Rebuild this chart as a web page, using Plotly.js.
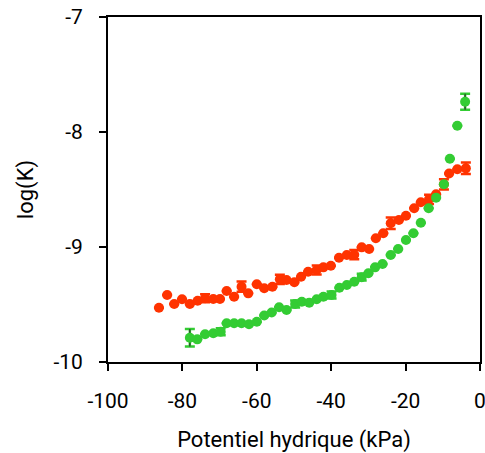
<!DOCTYPE html>
<html>
<head>
<meta charset="utf-8">
<script src="https://cdn.plot.ly/plotly-3.0.1.min.js"></script>
<style>html,body{margin:0;padding:0;background:#fff;}#chart{width:485px;height:453px;}</style>
</head>
<body>
<div id="chart"></div>
<script>
// Red series
const redX = [-86.3,-84.1,-82.2,-80.1,-78.0,-75.9,-73.9,-71.7,-69.9,-68.1,-66.1,-64.1,-62.3,-60.0,-58.0,-55.8,-53.8,-52.0,-49.9,-48.1,-46.2,-43.9,-42.1,-40.1,-37.9,-35.8,-33.8,-31.8,-29.8,-28.0,-26.0,-24.0,-21.8,-19.9,-17.7,-15.9,-13.7,-11.8,-9.7,-8.3,-6.1,-3.8];
const redY = [-9.528,-9.417,-9.496,-9.455,-9.496,-9.467,-9.446,-9.452,-9.452,-9.383,-9.432,-9.345,-9.403,-9.324,-9.359,-9.345,-9.281,-9.287,-9.307,-9.258,-9.215,-9.200,-9.177,-9.163,-9.093,-9.070,-9.067,-9.003,-9.017,-8.924,-8.881,-8.794,-8.765,-8.728,-8.663,-8.611,-8.585,-8.542,-8.455,-8.361,-8.324,-8.316];
const redErr = [0,0,0,0,0,0,0.035,0,0,0,0,0.045,0,0,0,0,0.04,0,0,0,0,0.04,0,0,0,0,0.04,0,0,0,0,0.05,0,0,0,0,0.04,0,0.045,0,0,0.05];
// Green series
const greenX = [-78.0,-76.0,-73.9,-71.7,-69.7,-68.1,-66.1,-64.1,-62.1,-60.0,-58.0,-56.0,-54.0,-52.0,-49.7,-47.9,-45.9,-43.9,-42.1,-39.9,-37.8,-35.8,-33.8,-31.8,-30.0,-28.2,-26.2,-24.0,-22.0,-19.9,-17.9,-15.9,-13.8,-11.8,-9.7,-8.1,-6.1,-4.0];
const greenY = [-9.789,-9.803,-9.759,-9.750,-9.737,-9.663,-9.663,-9.663,-9.672,-9.650,-9.596,-9.570,-9.524,-9.548,-9.496,-9.476,-9.484,-9.455,-9.432,-9.417,-9.354,-9.330,-9.302,-9.262,-9.229,-9.177,-9.148,-9.070,-9.017,-8.939,-8.881,-8.789,-8.663,-8.571,-8.455,-8.232,-7.945,-7.737];
const greenErr = [0.077,0,0,0,0.03,0,0,0,0,0,0,0,0,0,0.03,0,0,0,0,0.03,0,0,0,0.03,0,0,0,0,0,0,0,0,0,0,0,0,0,0.07];
const xTicks = [-100,-80,-60,-40,-20,0];
const yTicks = [-10,-9,-8,-7];

const RED = '#ff3300', GREEN = '#33cc33';
function errTrace(x, y, e, color, thick, width) {
  return {x: x, y: y, type: 'scatter', mode: 'markers', marker: {size: 1, opacity: 0},
    error_y: {type: 'data', array: e, visible: true, color: color, thickness: thick, width: width},
    hoverinfo: 'skip', showlegend: false};
}
const data = [
  errTrace(redX, redY, redErr, RED, 2.5, 5),
  errTrace(greenX, greenY, greenErr, GREEN, 2.5, 5),
  errTrace(greenX, greenY, greenErr, '#333', 1.2, 0),
  {x: redX, y: redY, type: 'scatter', mode: 'markers', marker: {color: RED, size: 10}, showlegend: false},
  {x: greenX, y: greenY, type: 'scatter', mode: 'markers', marker: {color: GREEN, size: 10}, showlegend: false}
];
const fontFam = 'Roboto, sans-serif';
const layout = {
  width: 485, height: 453,
  margin: {l: 108, r: 5, t: 17, b: 91},
  paper_bgcolor: '#fff', plot_bgcolor: '#fff',
  font: {family: fontFam, size: 21, color: '#000'},
  showlegend: false,
  xaxis: {range: [-100, 0], tickvals: xTicks, ticktext: xTicks.map(String), showgrid: false, zeroline: false,
    showline: true, linecolor: '#000', linewidth: 2, mirror: true, ticks: 'outside', ticklen: 7, tickwidth: 2, tickcolor: '#000',
    ticklabelstandoff: 12, ticklabeloverflow: 'allow',
    title: {text: 'Potentiel hydrique (kPa)', font: {family: fontFam, size: 22}, standoff: 19}},
  yaxis: {range: [-10, -7], tickvals: yTicks, ticktext: yTicks.map(String), showgrid: false, zeroline: false,
    showline: true, linecolor: '#000', linewidth: 2, mirror: true, ticks: 'outside', ticklen: 7, tickwidth: 2, tickcolor: '#000',
    ticklabelstandoff: 12, ticklabeloverflow: 'allow',
    title: {text: 'log(K)', font: {family: fontFam, size: 22}, standoff: 14}}
};
Plotly.newPlot('chart', data, layout, {staticPlot: true, displayModeBar: false});
</script>
</body>
</html>
